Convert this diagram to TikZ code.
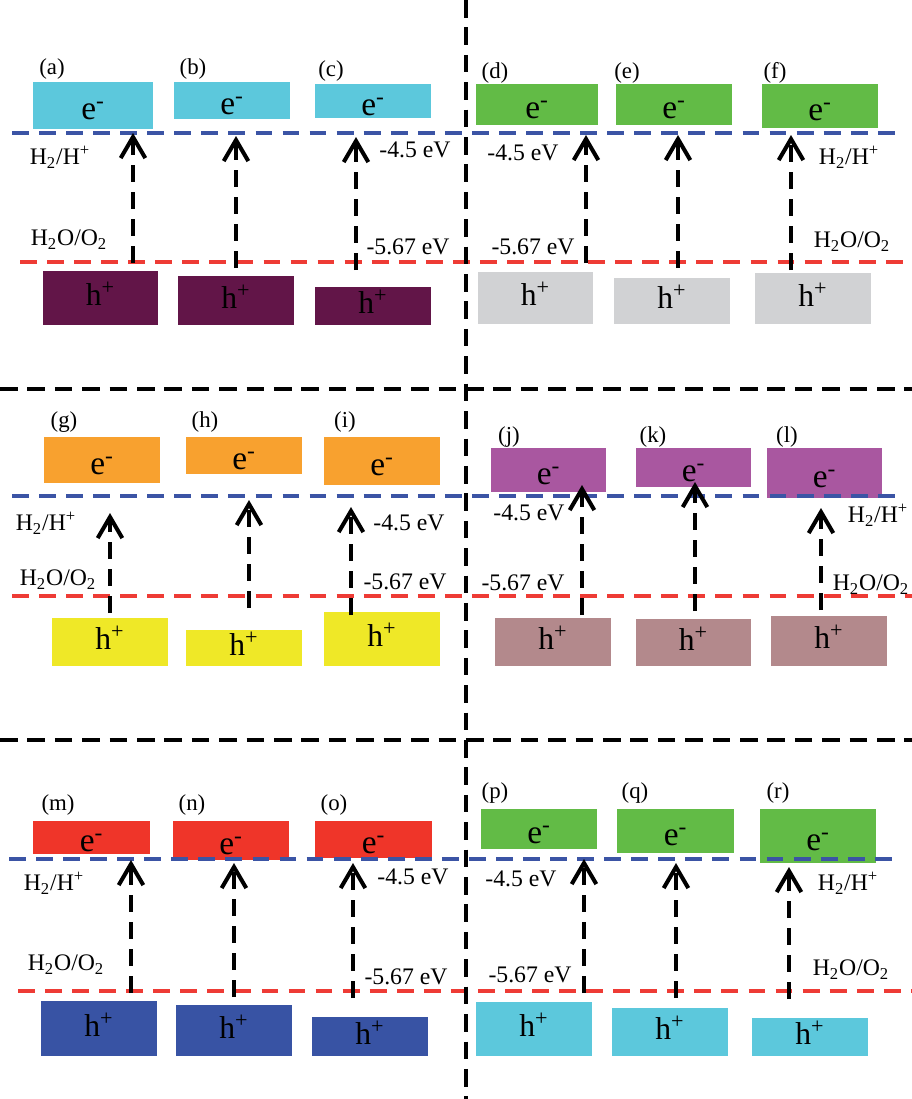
\documentclass[tikz,border=0pt]{standalone}
\usepackage{fontspec}
\setmainfont{Liberation Serif}
\usepackage{xcolor}
\usetikzlibrary{arrows.meta, positioning, fit}
\definecolor{bandcyan}{RGB}{92,200,220}
\definecolor{bandplum}{RGB}{98,21,72}
\definecolor{bandgreen}{RGB}{98,187,70}
\definecolor{bandgrey}{RGB}{209,210,212}
\definecolor{bandorange}{RGB}{248,161,47}
\definecolor{bandyellow}{RGB}{239,232,39}
\definecolor{bandmagenta}{RGB}{169,87,160}
\definecolor{bandmauve}{RGB}{179,137,140}
\definecolor{bandred}{RGB}{239,53,41}
\definecolor{bandblue}{RGB}{56,83,164}
\definecolor{levelblue}{RGB}{59,84,165}
\definecolor{levelred}{RGB}{238,59,53}
\newcommand{\eband}{\raisebox{-8pt}[0pt][0pt]{e\textsuperscript{-}}}
\newcommand{\hband}{\raisebox{-4.5pt}[0pt][0pt]{h\textsuperscript{+}}}
\tikzstyle{band} = [rectangle, draw=none, inner sep=0pt, text centered]
\tikzstyle{band-e} = [band, font=\fontsize{19}{20}\selectfont]
\tikzstyle{band-h} = [band, font=\fontsize{18}{20}\selectfont]
\tikzstyle{panel-name} = [rectangle, draw=none, inner sep=0pt, font=\fontsize{13}{15}\selectfont]
\tikzstyle{level-text} = [rectangle, draw=none, inner sep=0pt, font=\fontsize{13.5}{15}\selectfont]
\tikzstyle{h-level} = [levelblue, line width=2.1pt, dash pattern=on 9.6pt off 5.8pt]
\tikzstyle{o-level} = [levelred, line width=2.1pt, dash pattern=on 9.6pt off 5.8pt]
\tikzstyle{divider} = [black, line width=2pt, dash pattern=on 10pt off 5.6pt]
\tikzstyle{transfer} = [-{Straight Barb[length=12pt, width=14pt, line width=2.3pt]}, black, line width=2.3pt, dash pattern=on 9.6pt off 5.8pt]

\begin{document}
\begin{tikzpicture}[x=0.02cm, y=-0.02cm]
    \useasboundingbox (0,0) rectangle (912,1099);

    \node (ea) [band-e, fill=bandcyan, fit={(33,82) (153,129)}] {\eband};
    \node (eb) [band-e, fill=bandcyan, fit={(174,82) (290,119)}] {\eband};
    \node (ec) [band-e, fill=bandcyan, fit={(315,84) (431,118)}] {\eband};
    \node (ha) [band-h, fill=bandplum, fit={(43,271) (158,325)}] {\hband};
    \node (hb) [band-h, fill=bandplum, fit={(178,276) (294,325)}] {\hband};
    \node (hc) [band-h, fill=bandplum, fit={(315,287) (431,325)}] {\hband};

    \node (ed) [band-e, fill=bandgreen, fit={(476,84) (598,125)}] {\eband};
    \node (ee) [band-e, fill=bandgreen, fit={(616,84) (732,125)}] {\eband};
    \node (ef) [band-e, fill=bandgreen, fit={(762,84) (878,128)}] {\eband};
    \node (hd) [band-h, fill=bandgrey, fit={(478,272) (593,324)}] {\hband};
    \node (he) [band-h, fill=bandgrey, fit={(614,278) (730,324)}] {\hband};
    \node (hf) [band-h, fill=bandgrey, fit={(755,273) (871,324)}] {\hband};

    \node (eg) [band-e, fill=bandorange, fit={(44,437) (160,483)}] {\eband};
    \node (eh) [band-e, fill=bandorange, fit={(186,437) (302,474)}] {\eband};
    \node (ei) [band-e, fill=bandorange, fit={(324,437) (440,485)}] {\eband};
    \node (hg) [band-h, fill=bandyellow, fit={(52,618) (168,666)}] {\hband};
    \node (hh) [band-h, fill=bandyellow, fit={(186,630) (302,666)}] {\hband};
    \node (hi) [band-h, fill=bandyellow, fit={(324,612) (440,666)}] {\hband};

    \node (ej) [band-e, fill=bandmagenta, fit={(491,448) (606,492)}] {\eband};
    \node (ek) [band-e, fill=bandmagenta, fit={(636,448) (751,487)}] {\eband};
    \node (el) [band-e, fill=bandmagenta, fit={(767,448) (882,498)}] {\eband};
    \node (hj) [band-h, fill=bandmauve, fit={(495,618) (611,666)}] {\hband};
    \node (hk) [band-h, fill=bandmauve, fit={(636,619) (751,666)}] {\hband};
    \node (hl) [band-h, fill=bandmauve, fit={(771,616) (887,666)}] {\hband};

    \node (em) [band-e, fill=bandred, fit={(33,821) (150,854)}] {\eband};
    \node (en) [band-e, fill=bandred, fit={(173,821) (289,860)}] {\eband};
    \node (eo) [band-e, fill=bandred, fit={(315,821) (432,858)}] {\eband};
    \node (hm) [band-h, fill=bandblue, fit={(41,1001) (157,1056)}] {\hband};
    \node (hn) [band-h, fill=bandblue, fit={(176,1005) (292,1056)}] {\hband};
    \node (ho) [band-h, fill=bandblue, fit={(312,1017) (428,1056)}] {\hband};

    \node (ep) [band-e, fill=bandgreen, fit={(481,809) (597,849)}] {\eband};
    \node (eq) [band-e, fill=bandgreen, fit={(617,809) (734,853)}] {\eband};
    \node (er) [band-e, fill=bandgreen, fit={(760,809) (876,863)}] {\eband};
    \node (hp) [band-h, fill=bandcyan, fit={(476,1002) (592,1056)}] {\hband};
    \node (hq) [band-h, fill=bandcyan, fit={(612,1008) (728,1056)}] {\hband};
    \node (hr) [band-h, fill=bandcyan, fit={(752,1018) (868,1056)}] {\hband};

    \node (la) [panel-name] at (52,69) {(a)};
    \node (lb) [panel-name] at (193,69) {(b)};
    \node (lc) [panel-name] at (331,71) {(c)};
    \node (ld) [panel-name] at (495,73) {(d)};
    \node (le) [panel-name] at (627,73) {(e)};
    \node (lf) [panel-name] at (775,73) {(f)};
    \node (lg) [panel-name] at (64,422) {(g)};
    \node (lh) [panel-name] at (205,422) {(h)};
    \node (li) [panel-name] at (345,422) {(i)};
    \node (lj) [panel-name] at (509,437) {(j)};
    \node (lk) [panel-name] at (653,437) {(k)};
    \node (ll) [panel-name] at (787,437) {(l)};
    \node (lm) [panel-name] at (58,805) {(m)};
    \node (ln) [panel-name] at (192,805) {(n)};
    \node (lo) [panel-name] at (334,805) {(o)};
    \node (lp) [panel-name] at (495,793) {(p)};
    \node (lq) [panel-name] at (635,793) {(q)};
    \node (lr) [panel-name] at (778,793) {(r)};

    \draw[h-level] (12,133) -- (903,133);
    \draw[o-level] (20,262) -- (912,262);
    \draw[h-level] (12,496) -- (903,496);
    \draw[o-level] (12,596) -- (912,596);
    \draw[h-level] (9,859) -- (900,859);
    \draw[o-level] (18,991) -- (912,991);

    \draw[divider] (466,0) -- (466,1099);
    \draw[divider] (0,389) -- (912,389);
    \draw[divider] (0,740) -- (912,740);

    \node (hha) [level-text] at (60,157) {H\textsubscript{2}/H\textsuperscript{+}};
    \node (hoa) [level-text] at (69,240) {H\textsubscript{2}O/O\textsubscript{2}};
    \node (vha) [level-text] at (415,150) {-4.5 eV};
    \node (voa) [level-text] at (408,247) {-5.67 eV};
    \node (vhd) [level-text] at (523,153) {-4.5 eV};
    \node (hhd) [level-text] at (849,157) {H\textsubscript{2}/H\textsuperscript{+}};
    \node (vod) [level-text] at (533,247) {-5.67 eV};
    \node (hod) [level-text] at (852,242) {H\textsubscript{2}O/O\textsubscript{2}};
    \node (hhg) [level-text] at (46,523) {H\textsubscript{2}/H\textsuperscript{+}};
    \node (hog) [level-text] at (58,580) {H\textsubscript{2}O/O\textsubscript{2}};
    \node (vhg) [level-text] at (409,523) {-4.5 eV};
    \node (vog) [level-text] at (405,582) {-5.67 eV};
    \node (vhj) [level-text] at (529,513) {-4.5 eV};
    \node (hhj) [level-text] at (878,515) {H\textsubscript{2}/H\textsuperscript{+}};
    \node (voj) [level-text] at (523,583) {-5.67 eV};
    \node (hoj) [level-text] at (871,585) {H\textsubscript{2}O/O\textsubscript{2}};
    \node (hhm) [level-text] at (54,883) {H\textsubscript{2}/H\textsuperscript{+}};
    \node (hom) [level-text] at (66,965) {H\textsubscript{2}O/O\textsubscript{2}};
    \node (vhm) [level-text] at (413,877) {-4.5 eV};
    \node (vom) [level-text] at (406,977) {-5.67 eV};
    \node (vhp) [level-text] at (521,879) {-4.5 eV};
    \node (hhp) [level-text] at (848,883) {H\textsubscript{2}/H\textsuperscript{+}};
    \node (vop) [level-text] at (530,975) {-5.67 eV};
    \node (hop) [level-text] at (851,970) {H\textsubscript{2}O/O\textsubscript{2}};

    \coordinate (sa) at (133,263); \coordinate (ta) at (133,133);
    \coordinate (sb) at (236,268); \coordinate (tb) at (236,136);
    \coordinate (sc) at (356,270); \coordinate (tc) at (356,137);
    \coordinate (sd) at (586,263); \coordinate (td) at (586,135);
    \coordinate (se) at (678,268); \coordinate (te) at (678,135);
    \coordinate (sf) at (791,270); \coordinate (tf) at (791,135);
    \coordinate (sg) at (110,613); \coordinate (tg) at (110,513);
    \coordinate (sh) at (249,608); \coordinate (th) at (249,500);
    \coordinate (si) at (351,615); \coordinate (ti) at (351,507);
    \coordinate (sj) at (582,615); \coordinate (tj) at (582,485);
    \coordinate (sk) at (695,611); \coordinate (tk) at (695,482);
    \coordinate (sl) at (821,610); \coordinate (tl) at (821,508);
    \coordinate (sm) at (131,993); \coordinate (tm) at (131,860);
    \coordinate (sn) at (234,997); \coordinate (tn) at (234,863);
    \coordinate (so) at (353,998); \coordinate (to) at (353,863);
    \coordinate (sp) at (584,993); \coordinate (tp) at (584,859);
    \coordinate (sq) at (676,998); \coordinate (tq) at (676,863);
    \coordinate (sr) at (789,999); \coordinate (tr) at (789,867);

    \draw[transfer] (sa) -- (ta);
    \draw[transfer] (sb) -- (tb);
    \draw[transfer] (sc) -- (tc);
    \draw[transfer] (sd) -- (td);
    \draw[transfer] (se) -- (te);
    \draw[transfer] (sf) -- (tf);
    \draw[transfer] (sg) -- (tg);
    \draw[transfer] (sh) -- (th);
    \draw[transfer] (si) -- (ti);
    \draw[transfer] (sj) -- (tj);
    \draw[transfer] (sk) -- (tk);
    \draw[transfer] (sl) -- (tl);
    \draw[transfer] (sm) -- (tm);
    \draw[transfer] (sn) -- (tn);
    \draw[transfer] (so) -- (to);
    \draw[transfer] (sp) -- (tp);
    \draw[transfer] (sq) -- (tq);
    \draw[transfer] (sr) -- (tr);
\end{tikzpicture}
\end{document}
